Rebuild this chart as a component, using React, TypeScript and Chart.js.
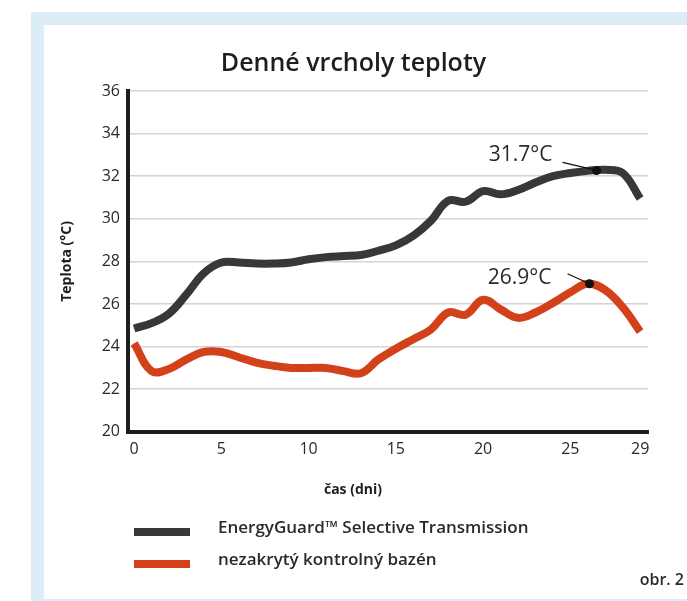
import React, { useEffect, useRef } from "react";
import { Chart, registerables } from "chart.js";

Chart.register(...registerables);

const chartTitle = "Denné vrcholy teploty";
const yAxisTitle = "Teplota (°C)";
const xAxisTitle = "čas (dni)";
const figureLabel = "obr. 2";

const days = [0, 1, 2, 3, 4, 5, 6, 7, 8, 9, 10, 11, 12, 13, 14, 15, 16, 17, 18, 19, 20, 21, 22, 23, 24, 25, 26, 27, 28, 29];
const energyGuard = [24.85, 25.1, 25.55, 26.45, 27.45, 27.95, 27.95, 27.9, 27.9, 27.95, 28.1, 28.2, 28.25, 28.3, 28.5, 28.75, 29.2, 29.9, 30.85, 30.8, 31.3, 31.15, 31.35, 31.7, 32.0, 32.15, 32.25, 32.3, 32.15, 30.95];
const uncoveredPool = [24.15, 22.85, 22.95, 23.4, 23.75, 23.75, 23.5, 23.25, 23.1, 23.0, 23.0, 23.0, 22.85, 22.75, 23.4, 23.9, 24.35, 24.8, 25.6, 25.5, 26.2, 25.75, 25.35, 25.6, 26.05, 26.55, 26.95, 26.65, 25.85, 24.7];
const seriesLabels = ["EnergyGuard™ Selective Transmission", "nezakrytý kontrolný bazén"];
const seriesColors = ["#383836", "#d3411a"];

const peakDays = [26.5, 26.1];
const peakValues = [32.27, 26.95];
const peakLabels = ["31.7°C", "26.9°C"];

const xTickValues = [0, 5, 10, 15, 20, 25, 29];
const yMin = 20;
const yMax = 36;
const yStep = 2;

const FONT = '"Open Sans", "Noto Sans", sans-serif';
const TEXT = "#2a2a2a";

const overlayPlugin = {
  id: "overlay",
  afterDatasetsDraw(chart: any) {
    const ctx = chart.ctx;
    ctx.save();
    const meta = chart.getDatasetMeta(2);
    const offsets = [
      { lx: -44, ly: -15, sx: -34, sy: -8 },
      { lx: -38, ly: -6, sx: -22, sy: -10 },
    ];
    meta.data.forEach((pt: any, i: number) => {
      const o = offsets[i];
      ctx.strokeStyle = "#111";
      ctx.lineWidth = 1.2;
      ctx.beginPath();
      ctx.moveTo(pt.x + o.sx, pt.y + o.sy);
      ctx.lineTo(pt.x, pt.y);
      ctx.stroke();
      ctx.fillStyle = TEXT;
      ctx.font = `500 21px ${FONT}`;
      ctx.textAlign = "right";
      ctx.textBaseline = "middle";
      ctx.fillText(peakLabels[i], pt.x + o.lx, pt.y + o.ly);
      ctx.fillStyle = "#111";
      ctx.beginPath();
      ctx.arc(pt.x, pt.y, 4.5, 0, Math.PI * 2);
      ctx.fill();
    });
    ctx.restore();
  },
  afterDraw(chart: any) {
    const ctx = chart.ctx;
    ctx.save();
    // x axis title (sits left of the plot centre in the original)
    ctx.fillStyle = "#1e1e1e";
    ctx.font = `700 14px ${FONT}`;
    ctx.textAlign = "center";
    ctx.textBaseline = "middle";
    ctx.fillText(xAxisTitle, 353, 490);

    const rows = [532, 564];
    seriesLabels.forEach((label, i) => {
      ctx.fillStyle = seriesColors[i];
      ctx.fillRect(134, rows[i] - 4, 56, 8);
      ctx.fillStyle = TEXT;
      ctx.font = `600 17px ${FONT}`;
      ctx.textAlign = "left";
      ctx.textBaseline = "middle";
      ctx.fillText(label, 218, rows[i] - 4);
    });
    ctx.font = `600 16px ${FONT}`;
    ctx.textAlign = "right";
    ctx.fillText(figureLabel, 684, 580);
    ctx.restore();
  },
};

export default function App() {
  const ref = useRef<HTMLCanvasElement | null>(null);

  useEffect(() => {
    if (!ref.current) return;
    const chart = new Chart(ref.current, {
      type: "line",
      data: {
        datasets: [
          {
            label: seriesLabels[0],
            data: days.map((d, i) => ({ x: d, y: energyGuard[i] })),
            borderColor: seriesColors[0],
            borderWidth: 8,
            pointRadius: 0,
            tension: 0.4,
            borderCapStyle: "butt",
            fill: false,
          },
          {
            label: seriesLabels[1],
            data: days.map((d, i) => ({ x: d, y: uncoveredPool[i] })),
            borderColor: seriesColors[1],
            borderWidth: 8,
            pointRadius: 0,
            tension: 0.4,
            borderCapStyle: "butt",
            fill: false,
          },
          {
            label: "peaks",
            data: peakDays.map((d, i) => ({ x: d, y: peakValues[i] })),
            showLine: false,
            pointRadius: 0,
            borderColor: "#111",
            backgroundColor: "#111",
          },
        ],
      },
      options: {
        animation: false,
        responsive: false,
        maintainAspectRatio: false,
        layout: { padding: { left: 59, right: 39, top: 10, bottom: 134 } },
        plugins: {
          legend: { display: false },
          tooltip: { enabled: false },
          title: {
            display: true,
            text: chartTitle,
            color: "#1e1e1e",
            font: { family: FONT, size: 25, weight: "600" },
            padding: { top: 39, bottom: 12 },
          },
        },
        scales: {
          x: {
            type: "linear",
            min: -0.35,
            max: 29.45,
            afterBuildTicks: (scale: any) => {
              scale.ticks = xTickValues.map((v) => ({ value: v }));
            },
            grid: { display: false, drawTicks: false },
            border: { display: true, color: "#1e1e1e", width: 4 },
            ticks: {
              color: TEXT,
              font: { family: FONT, size: 16 },
              padding: 8,
              autoSkip: false,
              maxRotation: 0,
            },
            title: { display: false },
          },
          y: {
            min: yMin,
            max: yMax,
            afterFit: (scale: any) => {
              scale.width = 69;
            },
            ticks: {
              stepSize: yStep,
              color: TEXT,
              font: { family: FONT, size: 16 },
              padding: 8,
            },
            grid: { color: "#d4d4d4", lineWidth: 1.5, drawTicks: false },
            border: { display: true, color: "#1e1e1e", width: 4 },
            title: {
              display: true,
              text: yAxisTitle,
              color: "#1e1e1e",
              font: { family: FONT, size: 14, weight: "700" },
              padding: { top: 0, bottom: 0 },
            },
          },
        },
      },
      plugins: [overlayPlugin],
    });
    return () => chart.destroy();
  }, []);

  const band = "#ddedf7";
  return (
    <div style={{ position: "absolute", left: 0, top: 0, width: 687, height: 601, background: "#fff", overflow: "hidden" }}>
      <div style={{ position: "absolute", left: 31, top: 12, right: 0, height: 13, background: band }} />
      <div style={{ position: "absolute", left: 31, top: 12, width: 13, bottom: 0, background: band }} />
      <div style={{ position: "absolute", left: 31, bottom: 0, right: 0, height: 2, background: band }} />
      <canvas ref={ref} width={687} height={601} style={{ position: "absolute", left: 0, top: 0, width: 687, height: 601 }} />
    </div>
  );
}
